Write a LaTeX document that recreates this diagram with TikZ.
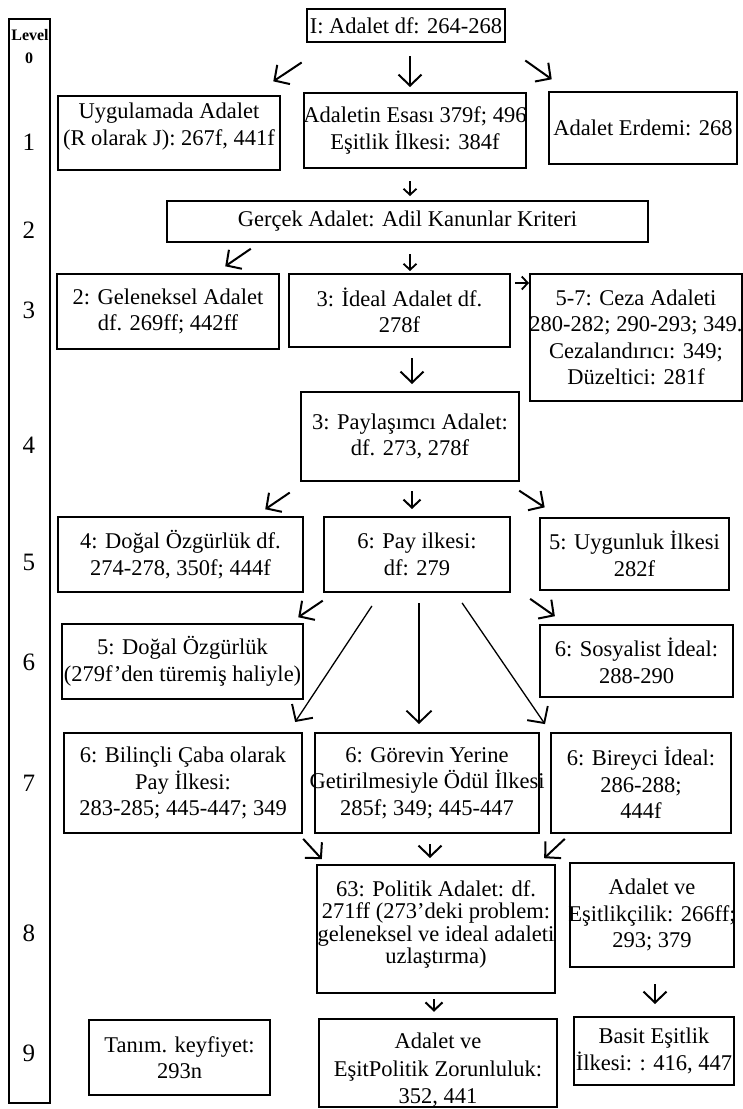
\documentclass[tikz,border=0pt]{standalone}
\usepackage{fontspec}
\setmainfont{Liberation Serif}
\usetikzlibrary{arrows.meta}
\tikzset{
  box/.style={draw, line width=2pt, inner sep=0pt, align=center,
    font=\fontsize{22.5}{26.5}\selectfont},
  lvlnum/.style={inner sep=0pt, font=\fontsize{25}{28}\selectfont},
  lvlhead/.style={inner sep=0pt, font=\fontsize{16}{18}\bfseries\selectfont},
  arr/.style={line width=2pt, -{Straight Barb[length=11pt,width=23pt,line width=2pt]}},
  arrm/.style={line width=2pt, -{Straight Barb[length=8pt,width=17pt,line width=2pt]}},
  arrs/.style={line width=1.8pt, -{Straight Barb[length=6pt,width=13pt,line width=1.8pt]}},
  longarr/.style={line width=1.3pt, -{Straight Barb[length=12pt,width=25pt,line width=1.9pt]}},
}
\newcommand{\ov}[1]{\makebox[0pt]{#1}}
\begin{document}
\begin{tikzpicture}[x=1pt,y=-1pt]
\useasboundingbox (0,0) rectangle (743,1109);
% level column
\node[draw, line width=2pt, minimum width=41pt, minimum height=1084pt, inner sep=0pt] (lvl) at (29.5,561) {};
\node[lvlhead] (lh) at (30,35) {Level};
\node[lvlhead] (l0) at (29,58) {0};
\node[lvlnum] (l1) at (29,142) {1};
\node[lvlnum] (l2) at (29,230) {2};
\node[lvlnum] (l3) at (29,310) {3};
\node[lvlnum] (l4) at (29,445) {4};
\node[lvlnum] (l5) at (29,562) {5};
\node[lvlnum] (l6) at (29,662) {6};
\node[lvlnum] (l7) at (29,783) {7};
\node[lvlnum] (l8) at (29,933) {8};
\node[lvlnum] (l9) at (29,1053) {9};

% boxes
\node[box, minimum width=198pt, minimum height=33pt] (top) at (406,25.5) {I: Adalet df: 264-268};
\node[box, minimum width=222pt, minimum height=74pt, text depth=18pt] (uyg) at (169,133) {Uygulamada Adalet\\(R olarak J): 267f, 441f};
\node[box, minimum width=222pt, minimum height=75pt] (esas) at (415,130.5) {\ov{Adaletin Esası 379f; 496}\\Eşitlik İlkesi: 384f};
\node[box, minimum width=188pt, minimum height=72pt] (erd) at (643,128) {Adalet Erdemi: 268};
\node[box, minimum width=481pt, minimum height=41pt] (ger) at (407.5,221.5) {Gerçek Adalet: Adil Kanunlar Kriteri};
\node[box, minimum width=222pt, minimum height=75pt] (gel) at (168,311.5) {2: Geleneksel Adalet\\df. 269ff; 442ff};
\node[box, minimum width=221pt, minimum height=73pt] (ide) at (399.5,310.5) {3: İdeal Adalet df.\\278f};
\node[box, minimum width=212pt, minimum height=127pt] (ceza) at (636,337.5) {5-7: Ceza Adaleti\\\ov{280-282; 290-293; 349.}\\Cezalandırıcı: 349;\\Düzeltici: 281f};
\node[box, minimum width=218pt, minimum height=89pt] (pays) at (410,436.5) {3: Paylaşımcı Adalet:\\df. 273, 278f};
\node[box, minimum width=245pt, minimum height=75pt] (dog) at (180.5,554.5) {4: Doğal Özgürlük df.\\274-278, 350f; 444f};
\node[box, minimum width=186pt, minimum height=75pt] (pay) at (417,554.5) {6: Pay ilkesi:\\df: 279};
\node[box, minimum width=189pt, minimum height=72pt] (uyk) at (634.5,554) {5: Uygunluk İlkesi\\282f};
\node[box, minimum width=241pt, minimum height=75pt] (dog2) at (182.5,661.5) {5: Doğal Özgürlük\\\ov{(279f’den türemiş haliyle)}};
\node[box, minimum width=193pt, minimum height=72pt] (sos) at (636.5,661) {6: Sosyalist İdeal:\\288-290};
\node[box, minimum width=238pt, minimum height=100pt] (bil) at (183,783) {6: Bilinçli Çaba olarak\\Pay İlkesi:\\283-285; 445-447; 349};
\node[box, minimum width=224pt, minimum height=100pt] (gor) at (427,783) {6: Görevin Yerine\\\ov{Getirilmesiyle Ödül İlkesi}\\285f; 349; 445-447};
\node[box, minimum width=180pt, minimum height=100pt] (bir) at (641,783) {6: Bireyci İdeal:\\286-288;\\444f};
\node[box, minimum width=238pt, minimum height=128pt, text depth=14pt, font=\fontsize{22.5}{22.5}\selectfont] (pol) at (436,929) {63: Politik Adalet: df.\\\ov{271ff (273’deki problem:}\\\ov{geleneksel ve ideal adaleti}\\uzlaştırma)};
\node[box, minimum width=164pt, minimum height=104pt] (esc) at (652,915) {Adalet ve\\\ov{Eşitlikçilik: 266ff;}\\293; 379};
\node[box, minimum width=181pt, minimum height=75pt] (tan) at (179.5,1057.5) {Tanım. keyfiyet:\\293n};
\node[box, minimum width=238pt, minimum height=88pt, text height=85pt, font=\fontsize{22.5}{27.5}\selectfont] (epz) at (438,1063) {Adalet ve\\\ov{EşitPolitik Zorunluluk:}\\352, 441};
\node[box, minimum width=160pt, minimum height=68pt] (bas) at (654,1051) {Basit Eşitlik\\\ov{İlkesi: : 416, 447}};

% arrows
\draw[arr, shorten <=35.2pt, shorten >=24.7pt] ([xshift=-75pt]top.south) -- ([xshift=83.7pt]uyg.north);
\draw[arr, shorten <=13pt, shorten >=5pt] ([xshift=4pt]top.south) -- ([xshift=-5pt]esas.north);
\draw[arr, shorten <=30.2pt, shorten >=20.2pt] ([xshift=94.7pt]top.south) -- ([xshift=-74.8pt]erd.north);
\draw[arrs, shorten <=12pt, shorten >=4pt] ([xshift=-5pt]esas.south) -- ([xshift=2.5pt]ger.north);
\draw[arr, shorten <=10.2pt, shorten >=11.9pt] ([xshift=-148.3pt]ger.south) -- ([xshift=47.4pt]gel.north);
\draw[arrs, shorten <=11pt, shorten >=2pt] ([xshift=2.5pt]ger.south) -- ([xshift=10.5pt]ide.north);
\draw[arrs, shorten <=4pt] ([yshift=27.5pt]ide.east) -- ([yshift=54.5pt]ceza.west);
\draw[arr, shorten <=10pt, shorten >=7pt] ([xshift=12.5pt]ide.south) -- ([xshift=2pt]pays.north);
\draw[arr, shorten <=18.8pt, shorten >=12pt] ([xshift=-104.7pt]pays.south) -- ([xshift=74.8pt]dog.north);
\draw[arrm, shorten <=9pt, shorten >=7pt] ([xshift=2pt]pays.south) -- ([xshift=-5pt]pay.north);
\draw[arr, shorten <=15.8pt, shorten >=17.6pt] ([xshift=96pt]pays.south) -- ([xshift=-75.1pt]uyk.north);
\draw[arr, shorten <=13.7pt, shorten >=10.3pt] ([xshift=-82.9pt]pay.south) -- ([xshift=107.2pt]dog2.north);
\draw[arr, shorten <=10.2pt, shorten >=13.6pt] ([xshift=10.8pt]pay.south east) -- ([xshift=-70.5pt]sos.north);
\draw[longarr, shorten <=15.5pt, shorten >=12pt] ([xshift=-36.5pt]pay.south) -- ([xshift=105.5pt]bil.north);
\draw[longarr, shorten <=10pt, shorten >=8pt] ([xshift=2pt]pay.south) -- ([xshift=-8pt]gor.north);
\draw[longarr, shorten <=12pt, shorten >=9.6pt] ([xshift=38.3pt]pay.south) -- ([xshift=-90.6pt]bir.north);
\draw[arr, shorten <=6.6pt, shorten >=6.6pt] ([xshift=115.7pt]bil.south) -- ([xshift=-109.7pt]pol.north);
\draw[arr, shorten <=10pt, shorten >=6pt] ([xshift=3pt]gor.south) -- ([xshift=-6pt]pol.north);
\draw[arr, shorten <=7.1pt, shorten >=8.5pt] ([xshift=-71pt]bir.south) -- ([xshift=102pt]pol.north);
\draw[arrm, shorten <=5pt, shorten >=6pt] ([xshift=-2pt]pol.south) -- ([xshift=-4pt]epz.north);
\draw[arr, shorten <=16pt, shorten >=12pt] ([xshift=3pt]esc.south) -- ([xshift=1pt]bas.north);
\end{tikzpicture}
\end{document}
